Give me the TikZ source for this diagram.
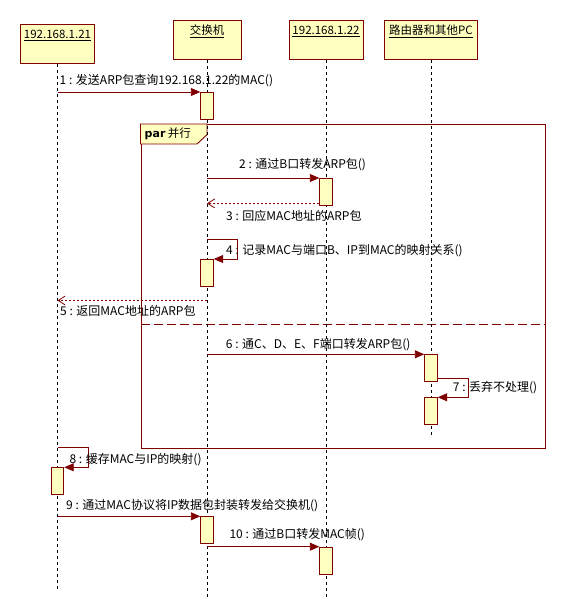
\documentclass[tikz,border=0pt]{standalone}
\usepackage{fontspec}
\setmainfont{Noto Sans CJK SC}
\newfontfamily\parfont{DejaVu Sans}
\usetikzlibrary{arrows.meta,calc}
\definecolor{umlred}{HTML}{800000}
\definecolor{umlyellow}{HTML}{FFFFC0}
\tikzset{
  object/.style={draw=umlred,fill=umlyellow,line width=0.9pt,anchor=north,inner xsep=0pt,inner ysep=4pt,
    text height=10pt,text depth=21pt,minimum height=39pt,font=\fontsize{11.5}{13}\selectfont},
  lifeline/.style={draw=black,line width=0.8pt,dash pattern=on 3pt off 3pt},
  act/.style={draw=umlred,fill=umlyellow,line width=0.9pt,anchor=north,inner sep=0pt,minimum width=12.5pt,minimum height=27pt},
  call/.style={draw=umlred,line width=0.9pt,-{Triangle[length=9.5pt,width=8pt]}},
  reply/.style={draw=umlred,line width=0.8pt,dash pattern=on 2pt off 2pt,-{Straight Barb[length=7pt,width=9pt]}},
  frame/.style={draw=umlred,line width=0.9pt,inner sep=0pt,anchor=north west},
  separator/.style={draw=umlred,line width=0.9pt,dash pattern=on 9pt off 4pt},
  msg/.style={anchor=west,inner sep=0pt,font=\fontsize{12}{14}\selectfont}
}
\begin{document}
\begin{tikzpicture}[x=1pt,y=-1pt]
  \useasboundingbox (0,0) rectangle (564,616);
  % par fragment
  \node [frame,minimum width=404pt,minimum height=323.5pt] (par) at (140.5,124) {};
  \draw [draw=umlred,fill=umlyellow,line width=0.9pt] (par.north west) -- ++(66.5,0) -- ++(0,10.7) -- ++(-10,9.3) -- ++(-56.5,0) -- cycle;
  \node [anchor=west,inner sep=0pt,font=\fontsize{11.5}{13}\selectfont] (partag) at (144.5,134) {{\parfont\bfseries\fontsize{11}{13}\selectfont par} 并行};
  \coordinate (split) at (0,324.3);
  \draw [separator] (par.west |- split) -- (par.east |- split);
  % objects
  \node [object,minimum width=74pt] (host21) at (57.5,24.3) {\underline{192.168.1.21}};
  \node [object,minimum width=68pt] (switch) at (207,20.3) {\underline{交换机}};
  \node [object,minimum width=74pt] (host22) at (326,20.3) {\underline{192.168.1.22}};
  \node [object,minimum width=93pt] (router) at (431,20.3) {\underline{路由器和其他PC}};
  % lifelines
  \coordinate (host21end) at (57.5,590);
  \coordinate (switchend) at (207,597);
  \coordinate (host22end) at (326,597);
  \coordinate (routerend) at (431,435);
  \draw [lifeline] (host21.south) -- (host21end);
  \draw [lifeline] (switch.south) -- (switchend);
  \draw [lifeline] (host22.south) -- (host22end);
  \draw [lifeline] (router.south) -- (routerend);
  % activations
  \node [act] (a1) at (207,92) {};
  \node [act] (a2) at (326,178) {};
  \node [act] (a3) at (207,259) {};
  \node [act] (a4) at (431,354.3) {};
  \node [act] (a5) at (431,397.3) {};
  \node [act] (a6) at (57.5,467.3) {};
  \node [act] (a7) at (207,516.3) {};
  \node [act] (a8) at (326,546.7) {};
  % messages
  \coordinate (r3) at ($(a2.south west)+(0,-2.5)$);
  \coordinate (s4) at ($(a3.north)+(0,-20)$);
  \coordinate (r5) at ($(a3.south)+(0,13.6)$);
  \coordinate (s7) at ($(a4.south east)+(0,-4)$);
  \coordinate (s8) at ($(a6.north)+(0,-20)$);
  \draw [call] (host21.south |- a1.north) -- (a1.north west);
  \draw [call] (switch.south |- a2.north) -- (a2.north west);
  \draw [reply] (r3) -- (switch.south |- r3);
  \draw [call] (s4) -- ++(30,0) |- (a3.north east);
  \draw [reply] (r5) -- (host21.south |- r5);
  \draw [call] (switch.south |- a4.north) -- (a4.north west);
  \draw [call] (s7) -- ++(31,0) |- (a5.north east);
  \draw [call] (s8) -- ++(31,0) |- (a6.north east);
  \draw [call] (host21.south |- a7.north) -- (a7.north west);
  \draw [call] (switch.south |- a8.north) -- (a8.north west);
  % labels
  \begin{scope}[every node/.style=msg]
    \node (m1) at (59.5,81) {1 : 发送ARP包查询192.168.1.22的MAC()};
    \node (m2) at (239,165) {2 : 通过B口转发ARP包()};
    \node (m3) at (226,215.7) {3 : 回应MAC地址的ARP包};
    \node (m4) at (226,250.7) {4 : 记录MAC与端口B、IP到MAC的映射关系()};
    \node (m5) at (60,311) {5 : 返回MAC地址的ARP包};
    \node (m6) at (225.7,345) {6 : 通C、D、E、F端口转发ARP包()};
    \node (m7) at (452.7,388) {7 : 丢弃不处理()};
    \node (m8) at (69.3,459.3) {8 : 缓存MAC与IP的映射()};
    \node (m9) at (66,505.3) {9 : 通过MAC协议将IP数据包封装转发给交换机()};
    \node (m10) at (229.3,534.3) {10 : 通过B口转发MAC帧()};
  \end{scope}
\end{tikzpicture}
\end{document}
